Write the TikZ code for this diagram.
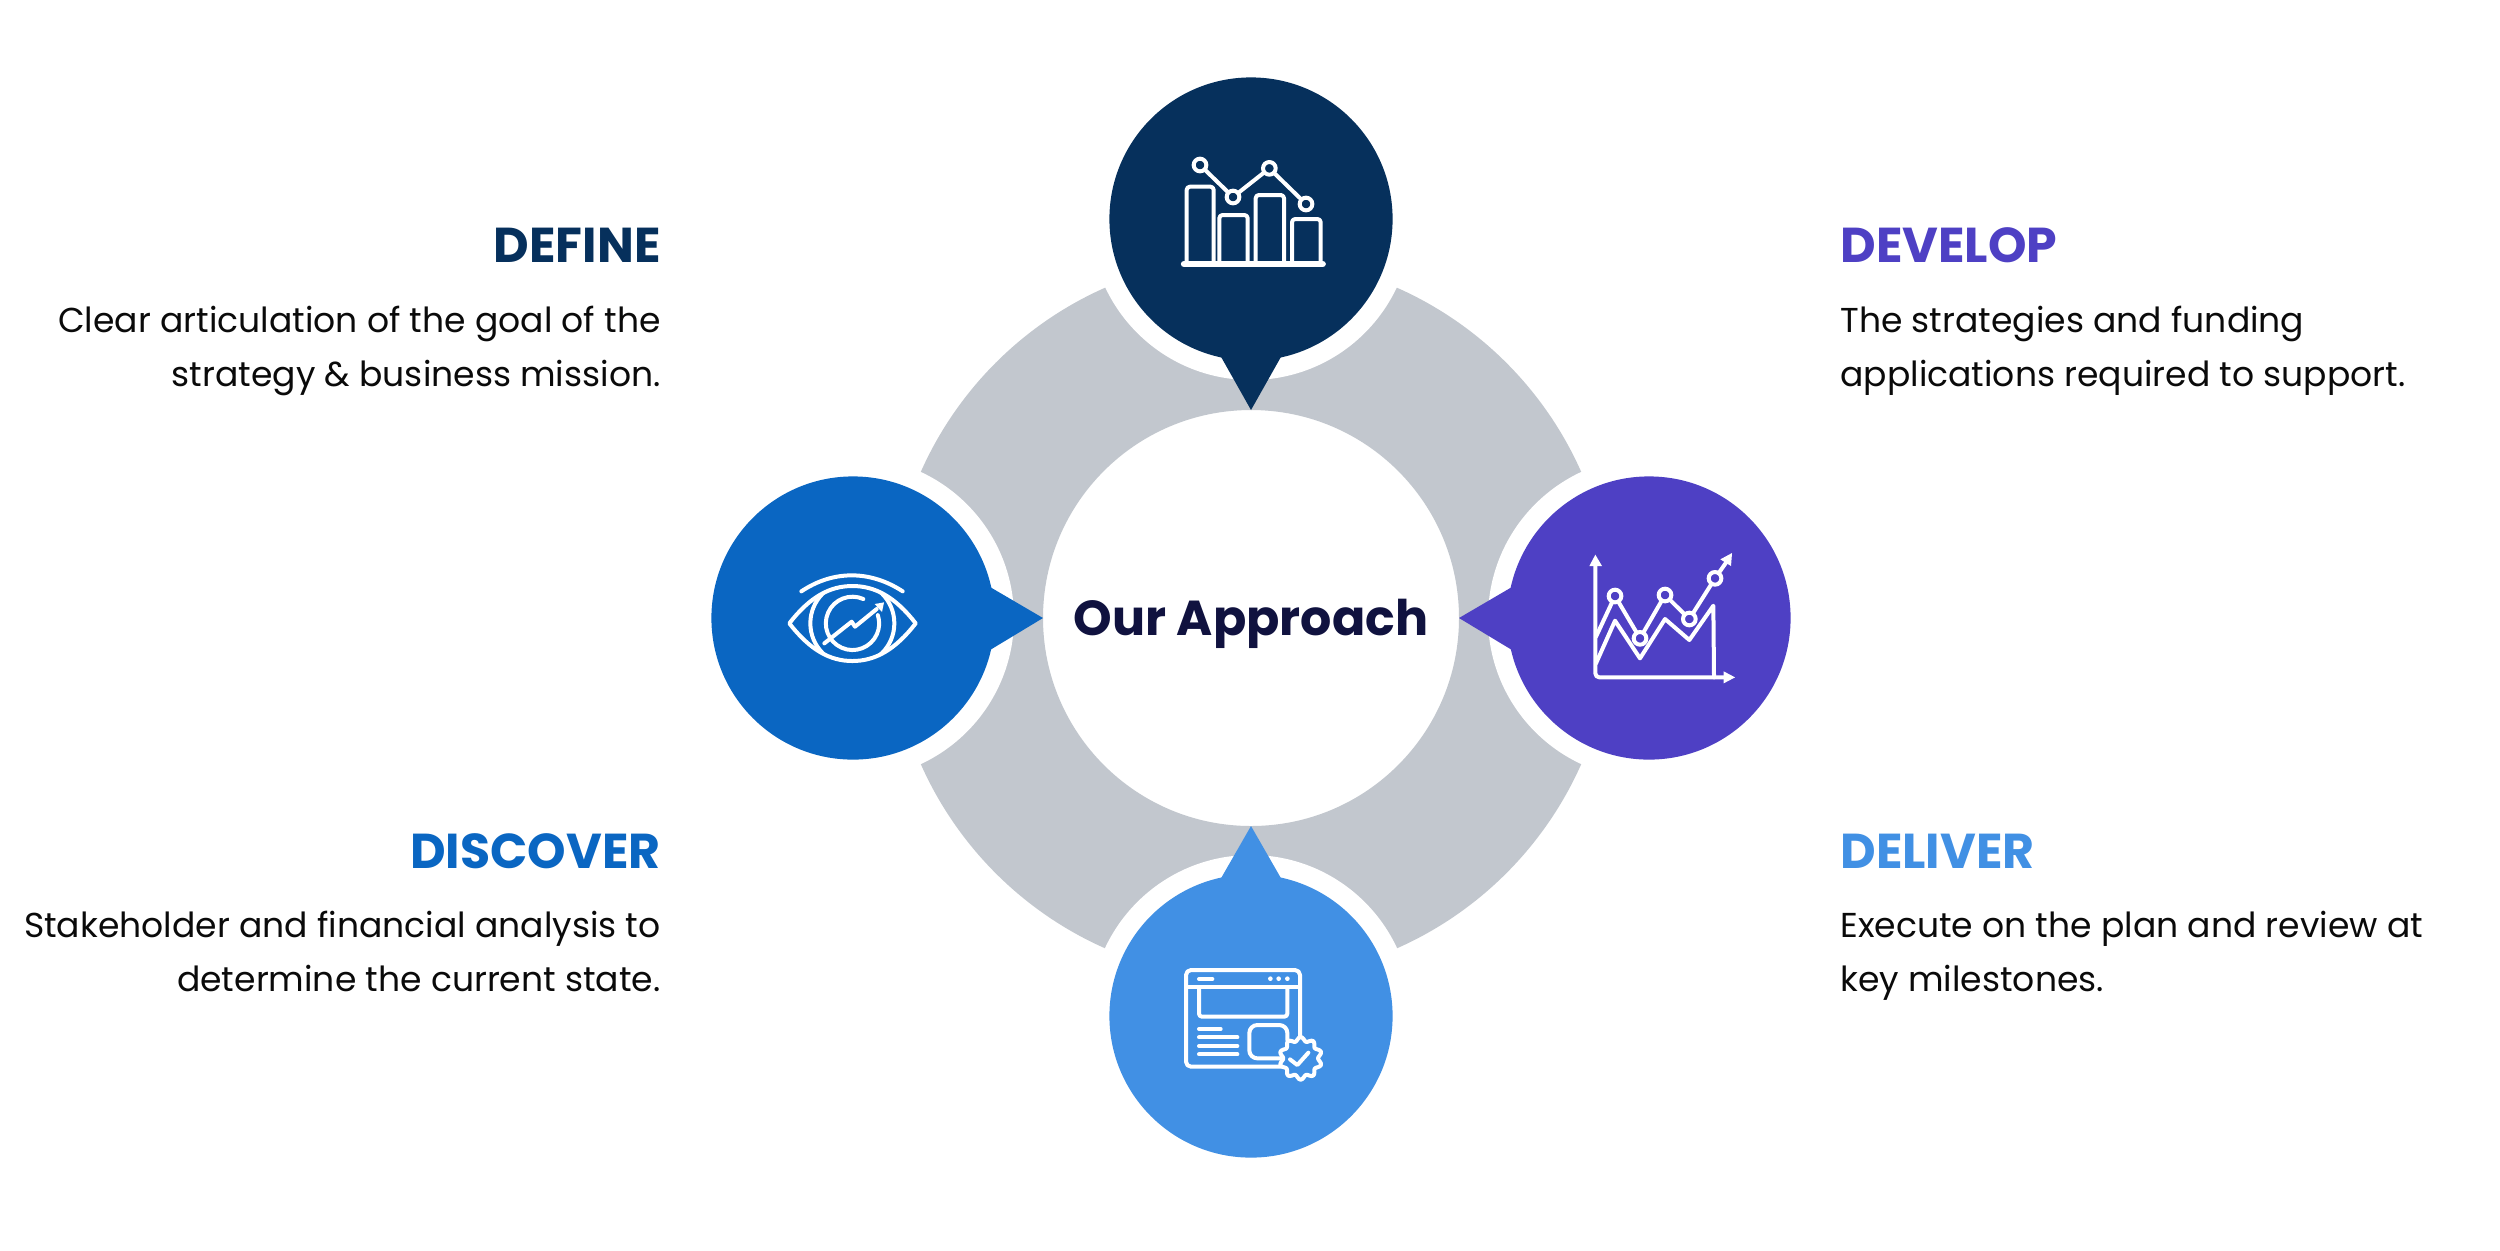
\documentclass[tikz,border=0pt]{standalone}
\usepackage{fontspec}
\setmainfont{Poppins}
\definecolor{navy}{HTML}{06305C}
\definecolor{midblue}{HTML}{0A66C2}
\definecolor{violet}{HTML}{4E40C4}
\definecolor{skyblue}{HTML}{4190E4}
\definecolor{ringgray}{HTML}{C2C7CE}
\definecolor{inkdark}{HTML}{10123F}
\definecolor{bodyink}{HTML}{0A0A0A}
\tikzset{
  ball/.style={circle,inner sep=0pt,minimum size=141.6pt,fill=#1},
  halo/.style={circle,inner sep=0pt,minimum size=161pt,fill=white},
  headR/.style={anchor=base east,inner sep=0pt,font=\fontsize{24.5}{30}\selectfont\bfseries,text=#1},
  headL/.style={anchor=base west,inner sep=0pt,font=\fontsize{24.5}{30}\selectfont\bfseries,text=#1},
  bodyR/.style={anchor=base east,inner sep=0pt,align=right,font=\fontsize{17.28}{26.65}\selectfont,text=bodyink},
  bodyL/.style={anchor=base west,inner sep=0pt,align=left,font=\fontsize{17.28}{26.65}\selectfont,text=bodyink},
  zoomed/.style={x=0.16667pt,y=-0.16667pt,line width=2pt,draw=white,line join=round,line cap=round},
}
\begin{document}
\begin{tikzpicture}[x=0.5pt,y=-0.5pt]
\useasboundingbox (0,0) rectangle (2500,1250);
\fill[white] (0,0) rectangle (2500,1250);
\coordinate (c) at (1251,618);
% ring
\fill[ringgray,even odd rule] (c) circle[radius=361] (c) circle[radius=208];
% halos
\node[halo] (h1) at (1251,219) {};
\node[halo] (h2) at (853,618) {};
\node[halo] (h3) at (1649,618) {};
\node[halo] (h4) at (1251,1016) {};
\node[circle,fill=white,inner sep=0pt,minimum size=207pt] (core) at (c) {};
% tails
\fill[navy] (1220,355) -- (1251,410) -- (1282,355) -- cycle;
\fill[midblue] (990,587) -- (1043,618) -- (990,650) -- cycle;
\fill[violet] (1512,587) -- (1459,618) -- (1512,650) -- cycle;
\fill[skyblue] (1220,880) -- (1251,826) -- (1282,880) -- cycle;
% balls
\node[ball=navy] (defineball) at (1251,219) {};
\node[ball=midblue] (discoverball) at (853,618) {};
\node[ball=violet] (developball) at (1649,618) {};
\node[ball=skyblue] (deliverball) at (1251,1016) {};
% centre
\node[anchor=base,inner sep=0pt,font=\fontsize{24.55}{30}\selectfont\bfseries,text=inkdark] (title) at (1251,635) {Our Approach};
% texts
\node[headR=navy] (t1) at (661,262) {DEFINE};
\node[bodyR] (b1) at (661,386) {Clear articulation of the goal of the\\strategy \& business mission.};
\node[headR=midblue] (t2) at (661,868) {DISCOVER};
\node[bodyR] (b2) at (661,991) {Stakeholder and financial analysis to\\determine the current state.};
\node[headL=violet] (t3) at (1840,262) {DEVELOP};
\node[bodyL] (b3) at (1840,386) {The strategies and funding\\applications required to support.};
\node[headL=skyblue] (t4) at (1840,868) {DELIVER};
\node[bodyL] (b4) at (1840,991) {Execute on the plan and review at\\key milestones.};
% icon 1: bar chart
\begin{scope}[shift={(1080,60)},zoomed]
  \draw[line width=3.2pt] (312,612) -- (728,612);
  \draw[rounded corners=1.6pt] (320,612) |- (401,380) -- (401,612);
  \draw[rounded corners=1.6pt] (418,612) |- (503,465) -- (503,612);
  \draw[rounded corners=1.6pt] (527,612) |- (612,405) -- (612,612);
  \draw[rounded corners=1.6pt] (636,612) |- (722,477) -- (722,612);
  \draw (360,315) -- (459,411) -- (568,325) -- (678,432);
  \foreach \p in {(360,315),(459,411),(568,325),(678,432)}
    \draw[fill=navy] \p circle[radius=19];
\end{scope}
% icon 2: eye
\begin{scope}[shift={(700,460)},zoomed]
  \draw (304,394) .. controls (400,330) and (510,330) .. (608,394);
  \draw (268,490) .. controls (330,410) and (390,378) .. (457,378) .. controls (525,378) and (585,410) .. (647,490)
        .. controls (585,570) and (525,603) .. (457,603) .. controls (390,603) and (330,570) .. (268,490) -- cycle;
  \begin{scope}
    \clip (268,490) .. controls (330,410) and (390,378) .. (457,378) .. controls (525,378) and (585,410) .. (647,490)
        .. controls (585,570) and (525,603) .. (457,603) .. controls (390,603) and (330,570) .. (268,490) -- cycle;
    \draw (457,490) circle[radius=126];
  \end{scope}
  \draw (490,417) arc[start angle=-66,end angle=-378,radius=80];
  \draw (373,550) -- (455,485) -- (465,500) -- (530,447);
  \fill[white] (552,427) -- (524,432) -- (546,456) -- cycle;
\end{scope}
% icon 3: line chart
\begin{scope}[shift={(1440,460)},zoomed]
  \draw[rounded corners=2pt] (466,310) -- (466,652) -- (860,652);
  \fill[white] (466,284) -- (448,318) -- (486,318) -- cycle;
  \fill[white] (885,652) -- (851,634) -- (851,670) -- cycle;
  \draw (468,530) -- (525,408) -- (600,535) -- (675,405) -- (748,477) -- (825,355) -- (860,305);
  \fill[white] (876,279) -- (841,298) -- (873,318) -- cycle;
  \draw (468,610) -- (525,482) -- (600,595) -- (675,477) -- (748,540) -- (820,437) -- (822,652);
  \foreach \p in {(525,408),(600,535),(675,405),(748,477),(825,355)}
    \draw[fill=violet] \p circle[radius=19];
\end{scope}
% icon 4: browser with badge
\begin{scope}[shift={(1080,810)},zoomed]
  \draw[rounded corners=2.5pt] (660,680) -- (660,480) -- (318,480) -- (318,770) -- (605,770);
  \draw (318,530) -- (660,530);
  \draw (357,507) -- (397,507);
  \foreach \x in {571,596,622} \fill[white] (\x,506) circle[radius=7];
  \draw[rounded corners=1.5pt] (357,532) -- (357,620) -- (622,620) -- (622,532);
  \draw[rounded corners=4pt] (622,690) -- (622,645) -- (508,645) -- (508,745) -- (600,745);
  \draw (357,657) -- (422,657);
  \foreach \y in {682,708,733} \draw (357,\y) -- (472,\y);
  \draw[fill=skyblue] plot[smooth cycle,samples=80,domain=0:355.5] ({662+(58+6*cos(10*(\x-90)))*cos(\x)},{745-(58+6*cos(10*(\x-90)))*sin(\x)});
  \draw (630,748) -- (652,765) -- (685,728);
\end{scope}
\end{tikzpicture}
\end{document}
